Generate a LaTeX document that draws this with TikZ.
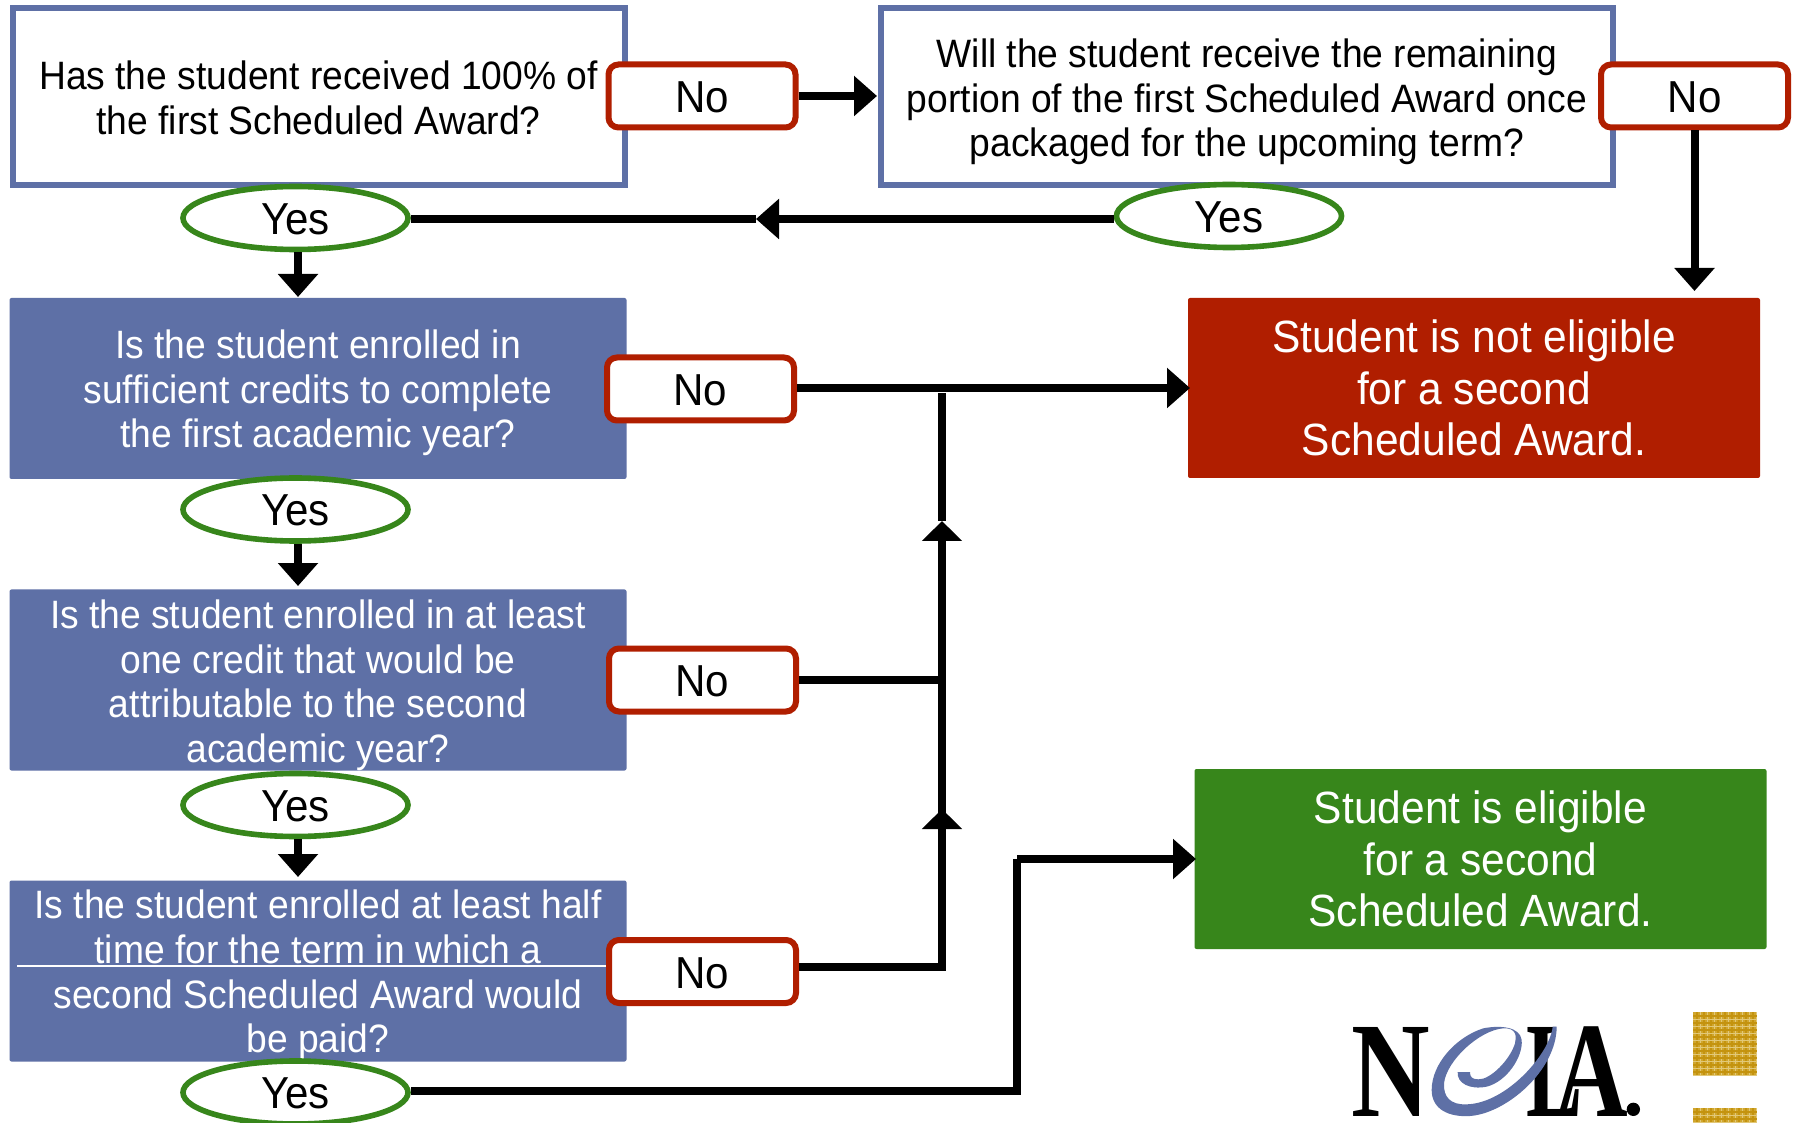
\documentclass[tikz,border=0pt]{standalone}
\usepackage{fontspec}
\setmainfont{Liberation Sans}
\newfontfamily\logofont{Liberation Serif}
\newfontfamily\qfam[FakeStretch=0.94]{Liberation Sans}
\newfontfamily\rfam[FakeStretch=0.94]{Liberation Sans}
\usetikzlibrary{arrows.meta,shapes.geometric}
\definecolor{nolablue}{HTML}{5E70A6}
\definecolor{nolared}{HTML}{B01E00}
\definecolor{nolagreen}{HTML}{37861B}
\definecolor{nolagold}{HTML}{D0A62E}
\definecolor{nolagoldd}{HTML}{C4930F}
\definecolor{nolagoldl}{HTML}{E2C878}
\newcommand{\qfont}{\qfam\fontsize{19.8}{22.3}\selectfont}
\newcommand{\rfont}{\rfam\fontsize{22.6}{25.6}\selectfont}
\newcommand{\afont}{\qfam\fontsize{22.4}{24}\selectfont}
\newcommand{\pad}[1]{\rule{0pt}{#1pt}}
\tikzset{
  x=.5pt,y=-.5pt,
  whitebox/.style={draw=nolablue,line width=3pt,fill=white,minimum width=306pt,minimum height=88.5pt,inner sep=0pt,align=center,font=\qfont},
  bluebox/.style={fill=nolablue,rounded corners=1pt,minimum width=308.5pt,minimum height=90.5pt,inner sep=0pt,align=center,text=white,font=\qfont},
  resultbox/.style={rounded corners=1pt,minimum width=286pt,minimum height=90pt,inner sep=0pt,align=center,text=white,font=\rfont},
  nobox/.style={draw=nolared,line width=3pt,fill=white,rounded corners=5pt,minimum width=93.5pt,minimum height=31.5pt,inner sep=0pt,text height=16.8pt,font=\afont},
  yesnode/.style={ellipse,draw=nolagreen,line width=2.8pt,fill=white,minimum width=112.5pt,minimum height=31.5pt,inner sep=0pt,text height=16.6pt,font=\afont},
  link/.style={line width=4pt,draw=black},
  linktip/.style={link,-{Triangle[length=11.5pt,width=19.5pt]}},
  uptip/.style={link,-{Triangle[length=10pt,width=19.5pt]}},
  logoletter/.style={font=\logofont\bfseries\fontsize{68}{68}\selectfont,inner sep=0pt,transform shape},
}
\begin{document}
\begin{tikzpicture}
\fill[white] (0,0) rectangle (1796,1123);
\useasboundingbox (0,0) rectangle (1796,1123);
% question boxes
\node[whitebox] (q1) at (318.5,97) {\pad{15}Has the student received 100\% of\\the first Scheduled Award?};
\node[whitebox,minimum width=366pt] (q2) at (1247,97) {\pad{19.5}Will the student receive the remaining\\portion of the first Scheduled Award once\\packaged for the upcoming term?};
\node[bluebox] (q3) at (318,388.5) {\pad{19}Is the student enrolled in\\sufficient credits to complete\\the first academic year?};
\node[bluebox] (q4) at (318,680) {\pad{19.5}Is the student enrolled in at least\\one credit that would be\\attributable to the second\\academic year?};
\node[bluebox] (q5) at (318,971) {\pad{19}Is the student enrolled at least half\\time for the term in which a\\second Scheduled Award would\\be paid?};
% results
\node[resultbox,fill=nolared] (notelig) at (1474,388) {Student is not eligible\\for a second\\Scheduled Award.};
\node[resultbox,fill=nolagreen] (elig) at (1480.5,859) {Student is eligible\\for a second\\Scheduled Award.};
% answers
\node[nobox] (no1) at (702,96) {No};
\node[nobox] (no2) at (1694.5,96) {No};
\node[nobox] (no3) at (700.5,389) {No};
\node[nobox] (no4) at (702.5,680) {No};
\node[nobox] (no5) at (702.5,971.5) {No};
\coordinate (hair) at (17,966);
\draw[white,line width=.7pt] (hair) -- (no5.west |- hair);
\node[yesnode] (yes2) at (1229,216) {Yes};
\node[yesnode] (yes1) at (295.5,218) {Yes};
\node[yesnode] (yes3) at (295.5,509.5) {Yes};
\node[yesnode] (yes4) at (295.5,805) {Yes};
\node[yesnode] (yes5) at (295.5,1092.5) {Yes};
% connectors
\coordinate (lane) at (0,219);
\coordinate (leftmid) at (756,219);
\coordinate (q2port) at (877,96);
\draw[linktip,line width=4.2pt] (no1.east |- q2port) -- (q2port);
\draw[linktip] (yes2.west |- lane) -- (leftmid);
\draw[link] (leftmid) -- (yes1.east |- lane);
\draw[linktip] (no2.south) -- (no2.south |- 0,291);
\coordinate (a1) at (298,297);
\coordinate (a2) at (298,586);
\coordinate (a3) at (298,877);
\draw[linktip] (yes1.south -| a1) -- (a1);
\draw[linktip] (yes3.south -| a2) -- (a2);
\draw[linktip] (yes4.south -| a3) -- (a3);
\coordinate (redport) at (1190,388);
\draw[linktip] (no3.east |- redport) -- (redport);
\coordinate (foot) at (942,967);
\coordinate (up1) at (942,809);
\coordinate (up2) at (942,521);
\coordinate (join) at (942,393);
\draw[link,line join=miter] (no5.east |- foot) -- (foot) -- (up1);
\draw[uptip] (foot) -- (up1);
\draw[uptip] (up1) -- (up2);
\draw[link] (up2) -- (join);
\draw[link] (no4.east) -- (no4.east -| foot);
\coordinate (bus) at (1017,1091);
\coordinate (busup) at (1017,859);
\coordinate (greenport) at (1196,859);
\draw[link,line join=miter] (yes5.east |- bus) -- (bus) -- (busup);
\draw[linktip] (busup) -- (greenport);
% logo
\node[logoletter,xscale=.8] (logoN) at (1391,1072) {N};
\node[logoletter,xscale=.62] (logoL) at (1554.5,1072) {L};
\node[logoletter,xscale=.75] (logoA) at (1591,1072) {A};
\begin{scope}[shift={(1300,980)},x=.16667pt,y=-.16667pt]
\fill[nolablue] (510,276) -- (473,276) .. controls (470,310) and (510,330) .. (560,320)
 .. controls (620,305) and (670,230) .. (665,180) .. controls (660,140) and (600,135) .. (550,145)
 .. controls (470,170) and (395,250) .. (395,330) .. controls (395,390) and (450,412) .. (510,408)
 .. controls (620,400) and (770,270) .. (770,140) -- (758,140)
 .. controls (750,220) and (620,370) .. (500,373) .. controls (450,375) and (430,350) .. (432,310)
 .. controls (440,240) and (540,150) .. (610,145) .. controls (650,143) and (650,170) .. (645,190)
 .. controls (630,240) and (570,300) .. (535,298) .. controls (515,298) and (510,290) .. (510,276) -- cycle;
\fill[black] (1000,388) circle (20);
\end{scope}
% gold squares
\fill[nolagold] (1693,1012) rectangle (1757,1076);
\fill[nolagold] (1693,1108) rectangle (1757,1123);
\foreach \g in {1697,1704,...,1757}{
  \draw[nolagoldd,line width=.6pt] (\g,1012) -- (\g,1076);
  \draw[nolagoldd,line width=.6pt] (\g,1108) -- (\g,1123);
}
\foreach \g in {1700,1707,...,1757}{
  \draw[nolagoldl,line width=.35pt] (\g,1012) -- (\g,1076);
  \draw[nolagoldl,line width=.35pt] (\g,1108) -- (\g,1123);
}
\foreach \g in {1016,1023,...,1076}{
  \draw[nolagoldd,line width=.6pt] (1693,\g) -- (1757,\g);
}
\foreach \g in {1019,1026,...,1076}{
  \draw[nolagoldl,line width=.35pt] (1693,\g) -- (1757,\g);
}
\foreach \g in {1112,1119}{
  \draw[nolagoldd,line width=.6pt] (1693,\g) -- (1757,\g);
}
\foreach \g in {1115,1122}{
  \draw[nolagoldl,line width=.35pt] (1693,\g) -- (1757,\g);
}
\end{tikzpicture}
\end{document}
